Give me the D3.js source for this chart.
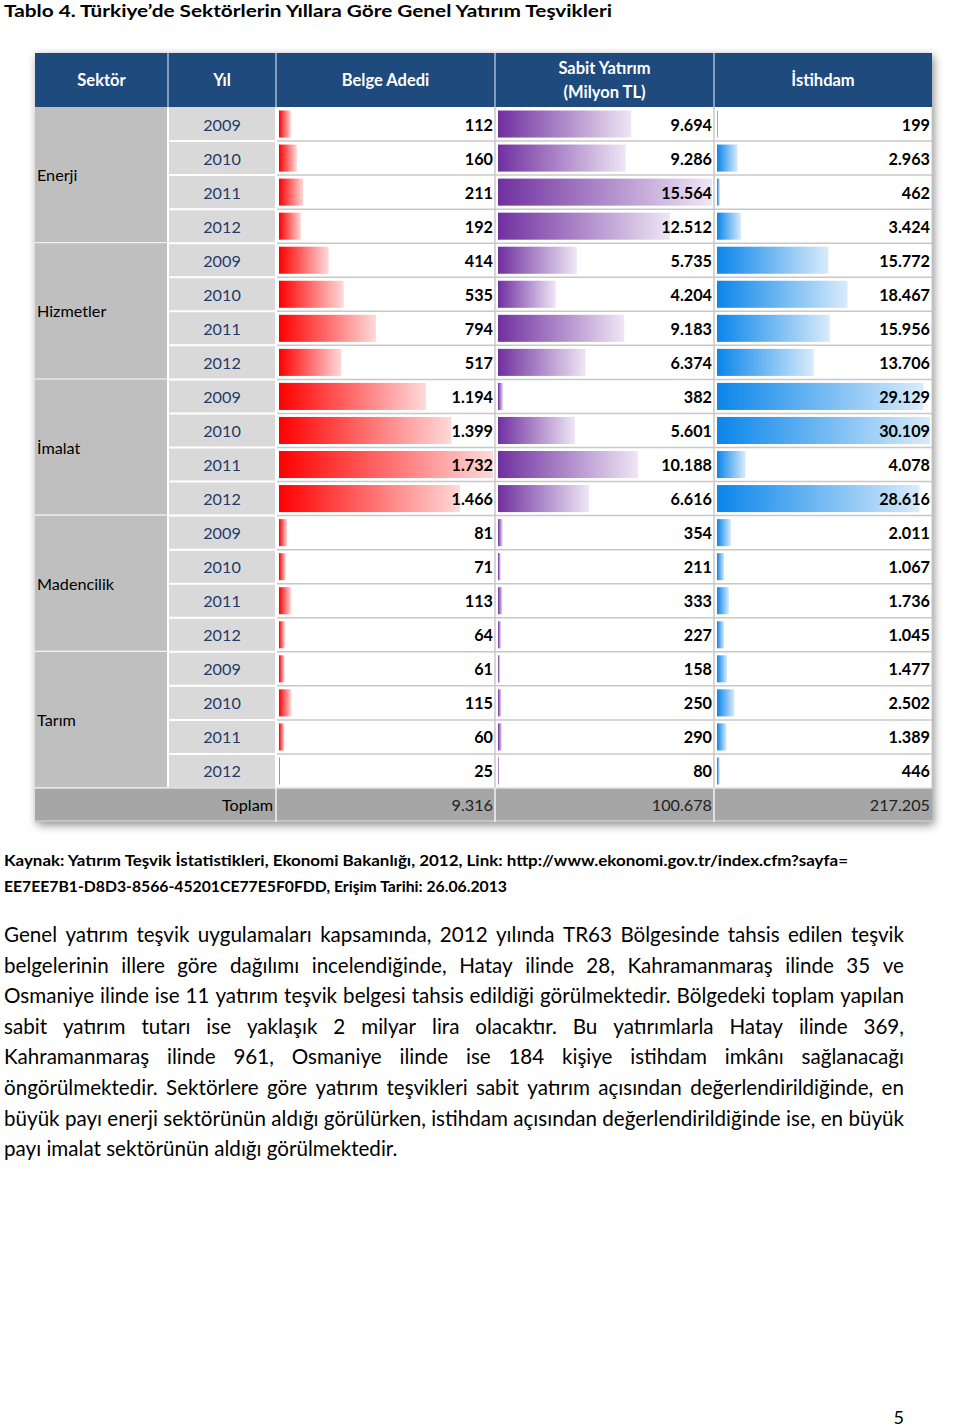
<!DOCTYPE html>
<html><head><meta charset="utf-8">
<script src="https://cdn.jsdelivr.net/npm/d3@7"></script>
<style>
html,body{margin:0;padding:0;background:#fff;}
svg{display:block;font-family:Lato,"Open Sans",sans-serif;}
</style></head>
<body>
<script>
// ---------- DATA ----------
const titleText = "Tablo 4. Türkiye’de Sektörlerin Yıllara Göre Genel Yatırım Teşvikleri";
const headers = ["Sektör", "Yıl", "Belge Adedi", ["Sabit Yatırım", "(Milyon TL)"], "İstihdam"];
const sectors = ["Enerji", "Hizmetler", "İmalat", "Madencilik", "Tarım"];
const years = ["2009", "2010", "2011", "2012"];
const belge = [112, 160, 211, 192, 414, 535, 794, 517, 1194, 1399, 1732, 1466, 81, 71, 113, 64, 61, 115, 60, 25];
const sabit = [9694, 9286, 15564, 12512, 5735, 4204, 9183, 6374, 382, 5601, 10188, 6616, 354, 211, 333, 227, 158, 250, 290, 80];
const istihdam = [199, 2963, 462, 3424, 15772, 18467, 15956, 13706, 29129, 30109, 4078, 28616, 2011, 1067, 1736, 1045, 1477, 2502, 1389, 446];
const totalLabel = "Toplam";
const totals = [9316, 100678, 217205];
const sourceLines = [
  "Kaynak: Yatırım Teşvik İstatistikleri, Ekonomi Bakanlığı, 2012, Link: http://www.ekonomi.gov.tr/index.cfm?sayfa=",
  "EE7EE7B1-D8D3-8566-45201CE77E5F0FDD, Erişim Tarihi: 26.06.2013"
];
const paraLines = [
  "Genel yatırım teşvik uygulamaları kapsamında, 2012 yılında TR63 Bölgesinde tahsis edilen teşvik",
  "belgelerinin illere göre dağılımı incelendiğinde, Hatay ilinde 28, Kahramanmaraş ilinde 35 ve",
  "Osmaniye ilinde ise 11 yatırım teşvik belgesi tahsis edildiği görülmektedir. Bölgedeki toplam yapılan",
  "sabit yatırım tutarı ise yaklaşık 2 milyar lira olacaktır. Bu yatırımlarla Hatay ilinde 369,",
  "Kahramanmaraş ilinde 961, Osmaniye ilinde ise 184 kişiye istihdam imkânı sağlanacağı",
  "öngörülmektedir. Sektörlere göre yatırım teşvikleri sabit yatırım açısından değerlendirildiğinde, en",
  "büyük payı enerji sektörünün aldığı görülürken, istihdam açısından değerlendirildiğinde ise, en büyük",
  "payı imalat sektörünün aldığı görülmektedir."
];
const pageNumber = "5";

// ---------- LAYOUT ----------
const W = 960, H = 1427;
const colEdges = [35, 168, 276, 495, 714, 932];
const headTop = 53, headBot = 107;
const rowH = 34.05;
const nRows = sectors.length * years.length;
const totTop = headBot + nRows * rowH;
const totBot = totTop + 34;
const cellFS = 16.2;

const fmt = d3.formatLocale({decimal: ",", thousands: ".", grouping: [3], currency: ["", ""]}).format(",d");

const svg = d3.select("body").append("svg").attr("width", W).attr("height", H);
const defs = svg.append("defs");
const filt = defs.append("filter").attr("id", "shadow").attr("x", "-10%").attr("y", "-10%").attr("width", "120%").attr("height", "120%");
filt.append("feDropShadow").attr("dx", 2).attr("dy", 3).attr("stdDeviation", 5).attr("flood-color", "#000").attr("flood-opacity", 0.45);

const grads = [
  {id: "gRed", c0: "#ff0000", c1: "#ffd9d9"},
  {id: "gPur", c0: "#7030a0", c1: "#efe6f5"},
  {id: "gBlu", c0: "#0a86ea", c1: "#d8ebfb"}
];
grads.forEach(g => {
  const lg = defs.append("linearGradient").attr("id", g.id).attr("x1", 0).attr("x2", 1).attr("y1", 0).attr("y2", 0);
  lg.append("stop").attr("offset", 0).attr("stop-color", g.c0);
  lg.append("stop").attr("offset", 1).attr("stop-color", g.c1);
});

function fitTo(sel, width) {
  sel.each(function() {
    const n = this.getComputedTextLength();
    if (Math.abs(n - width) > 0.5) d3.select(this).attr("textLength", width).attr("lengthAdjust", "spacingAndGlyphs");
  });
}

// Title
const title = svg.append("text").attr("x", 4).attr("y", 17).attr("font-size", 17.5).attr("font-weight", 700).attr("fill", "#000").text(titleText);
fitTo(title, 608);

// Table background + shadow
const tbl = svg.append("g");
tbl.append("rect").attr("x", colEdges[0]).attr("y", headTop).attr("width", colEdges[5] - colEdges[0]).attr("height", totBot - headTop)
  .attr("fill", "#fff").attr("filter", "url(#shadow)");

// Header
tbl.append("rect").attr("x", colEdges[0]).attr("y", headTop).attr("width", colEdges[5] - colEdges[0]).attr("height", headBot - headTop).attr("fill", "#1f4a7e");
headers.forEach((h, i) => {
  const cx = (colEdges[i] + colEdges[i + 1]) / 2;
  const lines = Array.isArray(h) ? h : [h];
  const midY = (headTop + headBot) / 2;
  lines.forEach((l, j) => {
    const y = midY + 6 + (j - (lines.length - 1) / 2) * 24;
    tbl.append("text").attr("x", cx).attr("y", y).attr("text-anchor", "middle").attr("font-size", 16.5).attr("font-weight", 700).attr("fill", "#fff").text(l);
  });
  if (i > 0) tbl.append("line").attr("x1", colEdges[i]).attr("x2", colEdges[i]).attr("y1", headTop).attr("y2", headBot).attr("stroke", "#c9d6e6").attr("stroke-width", 1.2);
});

const rows = [];
sectors.forEach((s, si) => years.forEach((y, yi) => {
  const k = si * years.length + yi;
  rows.push({sector: s, year: y, vals: [belge[k], sabit[k], istihdam[k]], idx: k});
}));

const yTop = i => headBot + i * rowH;

// sector column
sectors.forEach((s, si) => {
  const t = yTop(si * years.length), b = yTop((si + 1) * years.length);
  tbl.append("rect").attr("x", colEdges[0]).attr("y", t).attr("width", colEdges[1] - colEdges[0]).attr("height", b - t).attr("fill", "#bfbfbf");
  tbl.append("text").attr("x", colEdges[0] + 2).attr("y", (t + b) / 2 + 6).attr("font-size", cellFS).attr("fill", "#000").text(s);
  tbl.append("line").attr("x1", colEdges[0]).attr("x2", colEdges[1]).attr("y1", b).attr("y2", b).attr("stroke", "#fff").attr("stroke-width", 2);
});

// year column
rows.forEach((r, i) => {
  const t = yTop(i);
  tbl.append("rect").attr("x", colEdges[1]).attr("y", t).attr("width", colEdges[2] - colEdges[1]).attr("height", rowH).attr("fill", "#d9d9d9");
  tbl.append("text").attr("x", (colEdges[1] + colEdges[2]) / 2).attr("y", t + rowH / 2 + 6.5).attr("text-anchor", "middle").attr("font-size", cellFS).attr("fill", "#1f3b6a").text(r.year);
});

// data bars
const series = [belge, sabit, istihdam];
const gradIds = ["gRed", "gPur", "gBlu"];
series.forEach((arr, ci) => {
  const left = colEdges[ci + 2], right = colEdges[ci + 3];
  const x = d3.scaleLinear().domain([d3.min(arr), d3.max(arr)]).range([1, (right - left) - 5]);
  const g = tbl.append("g");
  g.selectAll("rect.bar").data(rows).join("rect").attr("class", "bar")
    .attr("x", left + 3).attr("y", (d, i) => yTop(i) + 3.5).attr("height", rowH - 7)
    .attr("width", d => x(d.vals[ci])).attr("fill", `url(#${gradIds[ci]})`);
  g.selectAll("text").data(rows).join("text")
    .attr("x", right - 2).attr("y", (d, i) => yTop(i) + rowH / 2 + 6.5)
    .attr("text-anchor", "end").attr("font-size", cellFS).attr("font-weight", 700).attr("fill", "#000")
    .text(d => fmt(d.vals[ci]));
});

// grid lines
for (let i = 1; i < nRows; i++) {
  const y = yTop(i);
  tbl.append("line").attr("x1", colEdges[1]).attr("x2", colEdges[2]).attr("y1", y).attr("y2", y).attr("stroke", "#fff").attr("stroke-width", 2);
  tbl.append("line").attr("x1", colEdges[2]).attr("x2", colEdges[5]).attr("y1", y).attr("y2", y).attr("stroke", "#c8c8c8").attr("stroke-width", 1.5);
}
[1, 2].forEach(c => tbl.append("line").attr("x1", colEdges[c]).attr("x2", colEdges[c]).attr("y1", headBot).attr("y2", totTop).attr("stroke", "#fff").attr("stroke-width", 2));
[3, 4].forEach(c => tbl.append("line").attr("x1", colEdges[c]).attr("x2", colEdges[c]).attr("y1", headBot).attr("y2", totTop).attr("stroke", "#c8c8c8").attr("stroke-width", 1.5));
tbl.append("line").attr("x1", colEdges[5]).attr("x2", colEdges[5]).attr("y1", headBot).attr("y2", totTop).attr("stroke", "#c8c8c8").attr("stroke-width", 1);

// total row
tbl.append("rect").attr("x", colEdges[0]).attr("y", totTop).attr("width", colEdges[5] - colEdges[0]).attr("height", totBot - totTop).attr("fill", "#a6a6a6");
tbl.append("line").attr("x1", colEdges[0]).attr("x2", colEdges[5]).attr("y1", totTop).attr("y2", totTop).attr("stroke", "#e0e0e0").attr("stroke-width", 1.5);
tbl.append("line").attr("x1", colEdges[0]).attr("x2", colEdges[5]).attr("y1", totBot - 1).attr("y2", totBot - 1).attr("stroke", "#c4c4c4").attr("stroke-width", 2);
tbl.append("text").attr("x", colEdges[2] - 3).attr("y", totTop + 23).attr("text-anchor", "end").attr("font-size", cellFS).attr("fill", "#000").text(totalLabel);
totals.forEach((v, i) => {
  tbl.append("line").attr("x1", colEdges[i + 2]).attr("x2", colEdges[i + 2]).attr("y1", totTop).attr("y2", totBot).attr("stroke", "#f2f2f2").attr("stroke-width", 1.5);
  tbl.append("text").attr("x", colEdges[i + 3] - 2).attr("y", totTop + 23).attr("text-anchor", "end").attr("font-size", cellFS).attr("fill", "#222").text(fmt(v));
});

// Source
const srcW = [844, 503];
sourceLines.forEach((l, i) => {
  const t = svg.append("text").attr("x", 4).attr("y", 866 + i * 26).attr("font-size", 15).attr("font-weight", 700).attr("fill", "#000").text(l);
  fitTo(t, srcW[i]);
});

// Paragraph (justified): font size chosen so the tightest line fills the width with normal spacing
const baseFS = 18, pX0 = 4, pX1 = 904, pY0 = 942, pLH = 30.6;
const meas = svg.append("text").attr("font-size", baseFS).attr("x", -1000).attr("y", -1000);
function tw(s) { meas.text(s); return meas.node().getComputedTextLength(); }
const spaceW0 = tw("a a") - tw("aa");
const info0 = paraLines.map(l => {
  const words = l.split(" ");
  const ws = words.map(tw);
  return {words, ws, natural: d3.sum(ws) + spaceW0 * (words.length - 1)};
});
meas.remove();
const scale = d3.min(info0.slice(0, -1), d => (pX1 - pX0) / d.natural);
const pFS = baseFS * scale;
info0.forEach((li, i) => {
  const last = i === info0.length - 1;
  const ws = li.ws.map(w => w * scale);
  const gap = last ? spaceW0 * scale : ((pX1 - pX0) - d3.sum(ws)) / (li.words.length - 1);
  let x = pX0;
  li.words.forEach((w, j) => {
    svg.append("text").attr("x", x).attr("y", pY0 + i * pLH).attr("font-size", pFS).attr("fill", "#000").text(w);
    x += ws[j] + gap;
  });
});

// Page number
svg.append("text").attr("x", 904).attr("y", 1424).attr("text-anchor", "end").attr("font-size", 18).attr("fill", "#000").text(pageNumber);
</script>
</body></html>
